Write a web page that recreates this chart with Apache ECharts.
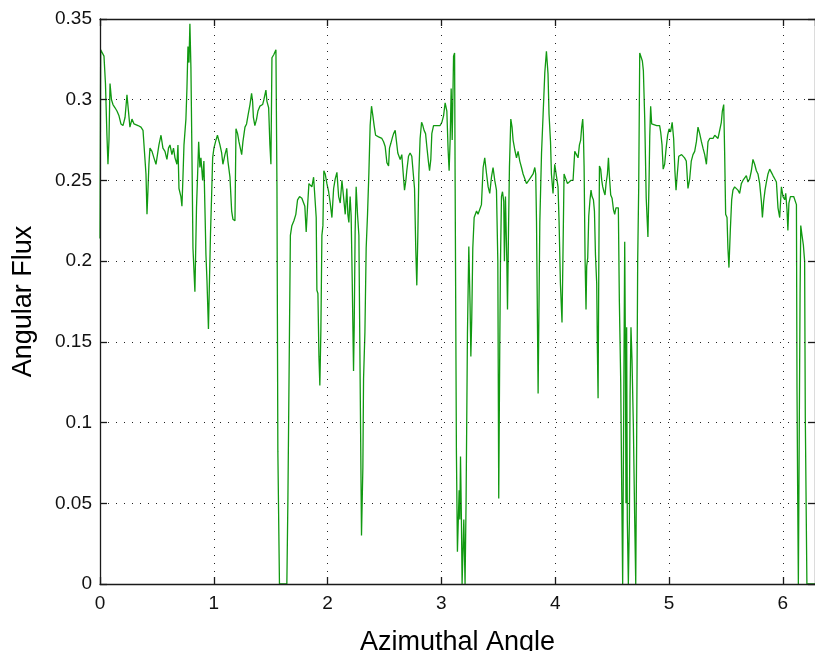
<!DOCTYPE html>
<html><head><meta charset="utf-8">
<script src="https://cdn.jsdelivr.net/npm/echarts@6/dist/echarts.min.js"></script>
<style>html,body{margin:0;padding:0;background:#fff}#c{width:815px;height:651px}</style>
</head><body><div id="c"></div>
<script>
// Azimuthal angle (radians)
const angle = [
0.000,0.006,0.018,0.035,0.048,0.061,0.070,0.079,0.088,0.101,0.114,0.132,0.149,0.167,0.184,0.202,0.220,0.237,0.250,0.263,
0.281,0.299,0.316,0.334,0.360,0.378,0.395,0.404,0.413,0.422,0.430,0.439,0.457,0.474,0.492,0.505,0.518,0.536,0.553,0.571,
0.588,0.602,0.615,0.632,0.646,0.659,0.676,0.685,0.694,0.711,0.720,0.729,0.738,0.755,0.764,0.773,0.782,0.790,0.799,0.808,
0.817,0.834,0.848,0.856,0.867,0.878,0.887,0.902,0.913,0.922,0.931,0.940,0.953,0.962,0.971,0.981,0.990,1.001,1.019,1.032,
1.054,1.069,1.080,1.098,1.113,1.124,1.142,1.157,1.168,1.186,1.195,1.209,1.221,1.245,1.256,1.274,1.288,1.300,1.318,1.332,
1.341,1.348,1.361,1.376,1.388,1.405,1.429,1.440,1.458,1.467,1.482,1.493,1.502,1.511,1.528,1.546,1.555,1.563,1.577,1.607,
1.642,1.651,1.665,1.673,1.686,1.704,1.721,1.736,1.754,1.774,1.789,1.800,1.812,1.824,1.836,1.847,1.862,1.877,1.894,1.900,
1.906,1.915,1.924,1.932,1.941,1.950,1.959,1.967,1.979,1.994,2.009,2.023,2.038,2.053,2.067,2.082,2.097,2.111,2.126,2.140,
2.155,2.169,2.178,2.187,2.198,2.207,2.216,2.228,2.234,2.242,2.251,2.263,2.275,2.286,2.298,2.310,2.316,2.328,2.339,2.351,
2.363,2.374,2.386,2.398,2.409,2.422,2.433,2.448,2.462,2.477,2.492,2.506,2.521,2.536,2.544,2.556,2.571,2.580,2.594,2.608,
2.617,2.629,2.638,2.652,2.667,2.676,2.688,2.696,2.711,2.725,2.740,2.755,2.764,2.775,2.784,2.793,2.802,2.813,2.826,2.837,
2.848,2.861,2.872,2.887,2.896,2.907,2.916,2.931,2.960,2.989,3.004,3.019,3.033,3.048,3.059,3.068,3.077,3.086,3.095,3.107,
3.116,3.121,3.132,3.141,3.151,3.156,3.162,3.168,3.176,3.182,3.197,3.208,3.217,3.229,3.241,3.252,3.259,3.267,3.276,3.288,
3.309,3.322,3.338,3.352,3.367,3.381,3.397,3.411,3.425,3.440,3.454,3.469,3.484,3.496,3.504,3.513,3.519,3.528,3.537,3.548,
3.554,3.563,3.575,3.581,3.590,3.598,3.610,3.621,3.630,3.645,3.660,3.674,3.689,3.704,3.718,3.733,3.748,3.762,3.777,3.792,
3.806,3.821,3.829,3.836,3.850,3.865,3.880,3.894,3.909,3.923,3.937,3.946,3.959,3.967,3.981,3.996,4.011,4.025,4.034,4.046,
4.060,4.069,4.078,4.093,4.108,4.122,4.137,4.157,4.172,4.187,4.201,4.213,4.224,4.233,4.242,4.248,4.254,4.263,4.271,4.277,
4.286,4.295,4.306,4.315,4.324,4.336,4.345,4.354,4.365,4.371,4.377,4.383,4.389,4.400,4.409,4.418,4.429,4.438,4.447,4.459,
4.468,4.477,4.488,4.500,4.512,4.523,4.534,4.555,4.564,4.576,4.585,4.593,4.602,4.611,4.617,4.622,4.628,4.634,4.643,4.652,
4.658,4.666,4.675,4.687,4.699,4.708,4.716,4.725,4.734,4.743,4.754,4.766,4.775,4.787,4.800,4.815,4.825,4.831,4.839,4.848,
4.863,4.892,4.918,4.927,4.939,4.949,4.962,4.975,4.988,5.001,5.014,5.028,5.041,5.052,5.062,5.073,5.086,5.097,5.111,5.124,
5.137,5.152,5.167,5.182,5.196,5.211,5.226,5.241,5.255,5.270,5.285,5.299,5.314,5.329,5.343,5.358,5.373,5.387,5.402,5.416,
5.431,5.446,5.460,5.469,5.481,5.489,5.498,5.510,5.518,5.527,5.539,5.551,5.562,5.577,5.592,5.606,5.621,5.636,5.650,5.665,
5.680,5.694,5.709,5.724,5.738,5.753,5.768,5.782,5.797,5.812,5.821,5.832,5.844,5.856,5.870,5.885,5.900,5.914,5.929,5.944,
5.958,5.973,5.988,5.997,6.002,6.017,6.026,6.037,6.045,6.054,6.067,6.081,6.096,6.108,6.120,6.125,6.131,6.137,6.146,6.152,
6.158,6.169,6.181,6.192,6.198,6.207,6.212,6.283
];
// Angular flux
const flux = [
0.214,0.331,0.330,0.327,0.310,0.278,0.260,0.275,0.310,0.300,0.297,0.295,0.293,0.290,0.285,0.284,0.289,0.303,0.293,0.283,
0.288,0.285,0.286,0.284,0.283,0.281,0.280,0.254,0.229,0.245,0.260,0.270,0.268,0.264,0.260,0.266,0.272,0.278,0.270,0.268,
0.263,0.270,0.272,0.266,0.270,0.264,0.260,0.272,0.245,0.240,0.234,0.252,0.272,0.288,0.307,0.333,0.323,0.347,0.320,0.266,
0.208,0.181,0.233,0.250,0.274,0.258,0.264,0.250,0.262,0.233,0.204,0.188,0.158,0.188,0.217,0.241,0.264,0.270,0.275,0.278,
0.272,0.267,0.260,0.266,0.270,0.262,0.252,0.231,0.226,0.225,0.282,0.279,0.274,0.266,0.274,0.283,0.285,0.290,0.297,0.304,
0.299,0.289,0.284,0.288,0.293,0.296,0.297,0.300,0.306,0.299,0.295,0.272,0.260,0.326,0.328,0.331,0.247,0.082,0.000,0.000,
0.000,0.051,0.156,0.216,0.222,0.225,0.229,0.238,0.240,0.239,0.240,0.234,0.218,0.234,0.248,0.247,0.246,0.252,0.253,0.227,
0.182,0.180,0.141,0.123,0.157,0.216,0.222,0.256,0.254,0.248,0.243,0.236,0.227,0.245,0.251,0.255,0.240,0.236,0.250,0.240,
0.229,0.245,0.229,0.224,0.240,0.228,0.190,0.132,0.160,0.218,0.246,0.229,0.216,0.127,0.030,0.072,0.127,0.156,0.208,0.229,
0.255,0.284,0.296,0.290,0.284,0.278,0.279,0.277,0.277,0.276,0.274,0.271,0.261,0.259,0.270,0.273,0.277,0.279,0.281,0.282,
0.267,0.268,0.263,0.266,0.252,0.244,0.250,0.256,0.265,0.267,0.265,0.265,0.245,0.207,0.185,0.216,0.254,0.276,0.286,0.284,
0.281,0.279,0.271,0.261,0.256,0.263,0.279,0.284,0.284,0.284,0.286,0.290,0.298,0.293,0.269,0.256,0.275,0.307,0.275,0.327,
0.329,0.246,0.082,0.020,0.020,0.058,0.040,0.079,0.040,0.000,0.040,0.000,0.051,0.155,0.209,0.173,0.141,0.165,0.208,0.227,
0.231,0.229,0.228,0.235,0.258,0.264,0.254,0.246,0.242,0.252,0.258,0.250,0.244,0.200,0.053,0.147,0.198,0.240,0.243,0.237,
0.200,0.240,0.200,0.170,0.220,0.258,0.288,0.283,0.275,0.269,0.264,0.268,0.262,0.258,0.254,0.251,0.248,0.248,0.251,0.252,
0.254,0.258,0.254,0.224,0.118,0.224,0.267,0.291,0.317,0.330,0.316,0.291,0.274,0.254,0.242,0.260,0.259,0.246,0.225,0.186,
0.162,0.207,0.254,0.253,0.248,0.249,0.250,0.250,0.268,0.266,0.264,0.272,0.275,0.283,0.288,0.279,0.259,0.200,0.170,0.197,
0.202,0.228,0.238,0.244,0.240,0.238,0.231,0.204,0.186,0.145,0.115,0.193,0.259,0.257,0.250,0.246,0.243,0.241,0.248,0.254,
0.264,0.252,0.241,0.239,0.232,0.229,0.233,0.233,0.175,0.125,0.057,0.000,0.105,0.212,0.147,0.050,0.159,0.039,0.000,0.039,
0.116,0.159,0.139,0.098,0.039,0.000,0.089,0.200,0.246,0.329,0.328,0.324,0.318,0.288,0.239,0.215,0.250,0.277,0.296,0.285,
0.284,0.284,0.284,0.280,0.272,0.257,0.260,0.270,0.278,0.282,0.280,0.286,0.276,0.256,0.244,0.254,0.265,0.266,0.266,0.266,
0.264,0.262,0.245,0.251,0.262,0.266,0.268,0.274,0.283,0.279,0.274,0.270,0.266,0.260,0.274,0.276,0.277,0.276,0.278,0.277,
0.276,0.277,0.286,0.293,0.297,0.268,0.229,0.227,0.208,0.196,0.219,0.238,0.244,0.246,0.245,0.244,0.242,0.248,0.250,0.249,
0.253,0.249,0.251,0.256,0.263,0.260,0.256,0.254,0.248,0.237,0.227,0.237,0.244,0.249,0.254,0.257,0.255,0.253,0.251,0.249,
0.233,0.227,0.246,0.246,0.240,0.238,0.242,0.232,0.219,0.236,0.240,0.239,0.240,0.239,0.235,0.121,0.056,0.000,0.000,0.180,
0.222,0.216,0.210,0.200,0.103,0.103,0.000,0.000
];
const xTicks = [0, 1, 2, 3, 4, 5, 6];
const yTicks = [0, 0.05, 0.1, 0.15, 0.2, 0.25, 0.3, 0.35];
const xTitle = 'Azimuthal Angle';
const yTitle = 'Angular Flux';

const FONT = '"Liberation Sans", Arial, Helvetica, sans-serif';
const chart = echarts.init(document.getElementById('c'), null, {renderer: 'canvas'});
const axisLineStyle = {color: '#1a1a1a', width: 1.3};
const gridDots = {show: true, lineStyle: {color: '#222', width: 1, type: [1, 7]}};
const xMin = xTicks[0], xMax = 6.2832;
const yMin = yTicks[0], yMax = yTicks[yTicks.length - 1];

chart.setOption({
  animation: false,
  backgroundColor: '#fff',
  grid: {left: 100, right: 0, top: 19, bottom: 67, containLabel: false, outerBoundsMode: 'none'},
  xAxis: [{
    type: 'value', position: 'bottom', min: xMin, max: xMax, interval: 1, z: 5,
    axisLine: {show: true, onZero: false, lineStyle: axisLineStyle},
    axisTick: {show: true, inside: true, length: 7, lineStyle: axisLineStyle},
    axisLabel: {show: true, margin: 10, color: '#111', fontFamily: FONT, fontSize: 19, showMaxLabel: false,
      formatter: v => (xTicks.indexOf(v) >= 0 ? String(v) : '')},
    splitLine: gridDots,
    name: xTitle, nameLocation: 'middle', nameGap: 45,
    nameTextStyle: {fontFamily: FONT, fontSize: 27, color: '#000'}
  }, {
    type: 'value', position: 'top', min: xMin, max: xMax, interval: 1, z: 5,
    axisLine: {show: true, onZero: false, lineStyle: axisLineStyle},
    axisTick: {show: true, inside: true, length: 7, lineStyle: axisLineStyle},
    axisLabel: {show: false}, splitLine: {show: false}
  }],
  yAxis: [{
    type: 'value', position: 'left', min: yMin, max: yMax, interval: 0.05, z: 5,
    axisLine: {show: true, onZero: false, lineStyle: axisLineStyle},
    axisTick: {show: true, inside: true, length: 7, lineStyle: axisLineStyle},
    axisLabel: {show: true, margin: 8, color: '#111', fontFamily: FONT, fontSize: 19},
    splitLine: gridDots,
    name: yTitle, nameLocation: 'middle', nameRotate: 90, nameGap: 63,
    nameTextStyle: {fontFamily: FONT, fontSize: 27, color: '#000'}
  }, {
    type: 'value', position: 'right', min: yMin, max: yMax, interval: 0.05, z: 5,
    axisLine: {show: true, onZero: false, lineStyle: axisLineStyle},
    axisTick: {show: true, inside: true, length: 7, lineStyle: axisLineStyle},
    axisLabel: {show: false}, splitLine: {show: false}
  }],
  series: [{
    type: 'line', xAxisIndex: 0, yAxisIndex: 0,
    data: angle.map((a, i) => [a, flux[i]]),
    showSymbol: false, symbol: 'none', clip: true, smooth: false,
    lineStyle: {color: '#119911', width: 1.3},
    z: 2
  }]
});
</script>
</body></html>
